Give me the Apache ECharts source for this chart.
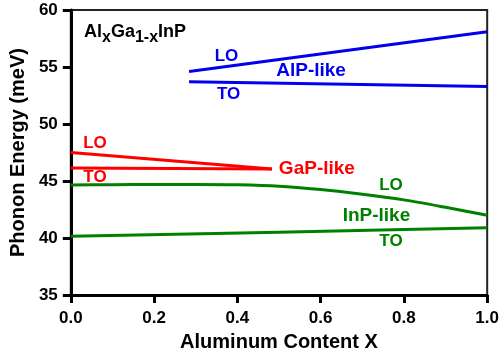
<!DOCTYPE html>
<html><head><meta charset="utf-8">
<script src="https://cdn.jsdelivr.net/npm/echarts@6/dist/echarts.min.js"></script>
<style>html,body{margin:0;padding:0;background:#fff}#c{width:502px;height:357px}</style>
</head><body><div id="c"></div>
<script>
var xTicks = [0, 0.2, 0.4, 0.6, 0.8, 1.0];
var yTicks = [35, 40, 45, 50, 55, 60];

var alpLO_x = [0.284, 1.0];
var alpLO_y = [54.6, 58.1];
var alpTO_x = [0.284, 1.0];
var alpTO_y = [53.7, 53.3];

var gapLO_x = [0, 0.483];
var gapLO_y = [47.5, 46.05];
var gapTO_x = [0, 0.483];
var gapTO_y = [46.15, 46.05];

var inpLO_x = [0, 0.1, 0.2, 0.3, 0.4, 0.5, 0.6, 0.7, 0.8, 0.9, 1.0];
var inpLO_y = [44.65, 44.68, 44.7, 44.7, 44.67, 44.55, 44.25, 43.85, 43.35, 42.7, 42.0];
var inpTO_x = [0, 0.5, 1.0];
var inpTO_y = [40.15, 40.52, 40.9];

var labelText = ['LO', 'TO', 'AlP-like', 'LO', 'TO', 'GaP-like', 'LO', 'InP-like', 'TO'];
var labelX = [0.374, 0.379, 0.577, 0.058, 0.058, 0.591, 0.769, 0.734, 0.769];
var labelY = [55.98, 52.6, 54.68, 48.33, 45.37, 46.07, 44.59, 41.98, 39.72];
var labelColor = ['#0000ee', '#0000ee', '#0000ee', '#ff0000', '#ff0000', '#ff0000', '#008000', '#008000', '#008000'];
var labelSize = [17, 17, 19, 17, 17, 19, 17, 19, 17];

function pts(xs, ys) { return xs.map(function (x, i) { return [x, ys[i]]; }); }

var FONT = '"Liberation Sans", Arial, sans-serif';
var BLUE = '#0000ee', RED = '#ff0000', GREEN = '#008000';

function lineSeries(xs, ys, color, smooth) {
  return {
    type: 'line', data: pts(xs, ys), showSymbol: false, smooth: smooth ? 0.3 : false,
    lineStyle: { color: color, width: 3 }, silent: true, animation: false
  };
}

var chart = echarts.init(document.getElementById('c'));
var series = [
  lineSeries(alpLO_x, alpLO_y, BLUE),
  lineSeries(alpTO_x, alpTO_y, BLUE),
  lineSeries(gapLO_x, gapLO_y, RED),
  lineSeries(gapTO_x, gapTO_y, RED),
  lineSeries(inpLO_x, inpLO_y, GREEN, true),
  lineSeries(inpTO_x, inpTO_y, GREEN, true),
  {
    type: 'scatter', symbolSize: 0, animation: false, silent: true,
    itemStyle: { opacity: 1 },
    data: labelText.map(function (t, i) {
      return {
        value: [labelX[i], labelY[i]],
        itemStyle: { opacity: 1 },
        label: {
          show: true, position: 'inside', formatter: t, opacity: 1,
          color: labelColor[i], fontSize: labelSize[i], fontWeight: 'bold', fontFamily: FONT
        }
      };
    })
  }
];

chart.setOption({
  animation: false,
  backgroundColor: '#fff',
  grid: { left: 69, right: 13, top: 10, bottom: 59, show: true, borderColor: '#222', borderWidth: 2 },
  title: {
    left: 79, top: 14,
    text: '{m|Al}{s|x}{m|Ga}{s|1-x}{m|InP}',
    textStyle: {
      rich: {
        m: { fontSize: 18, fontWeight: 'bold', fontFamily: FONT, color: '#000', verticalAlign: 'bottom', lineHeight: 22 },
        s: { fontSize: 16, fontWeight: 'bold', fontFamily: FONT, color: '#000', verticalAlign: 'bottom', lineHeight: 16, padding: [0, 0, -5, 0] }
      }
    }
  },
  xAxis: {
    type: 'value', min: xTicks[0], max: xTicks[xTicks.length - 1], interval: 0.2,
    name: 'Aluminum Content X', nameLocation: 'middle', nameGap: 32,
    nameTextStyle: { fontSize: 20, fontWeight: 'bold', fontFamily: FONT, color: '#000' },
    axisLine: { show: true, lineStyle: { color: '#000', width: 3 } },
    axisTick: { show: true, inside: false, length: 8, lineStyle: { color: '#000', width: 3 } },
    axisLabel: { fontSize: 17, fontWeight: 'bold', fontFamily: FONT, color: '#000', margin: 15,
      formatter: function (v) { return v.toFixed(1); } },
    splitLine: { show: false }
  },
  yAxis: {
    type: 'value', min: yTicks[0], max: yTicks[yTicks.length - 1], interval: 5,
    name: 'Phonon Energy (meV)', nameLocation: 'middle', nameGap: 40,
    nameTextStyle: { fontSize: 20, fontWeight: 'bold', fontFamily: FONT, color: '#000' },
    axisLine: { show: true, lineStyle: { color: '#000', width: 3 } },
    axisTick: { show: true, inside: false, length: 8, lineStyle: { color: '#000', width: 3 } },
    axisLabel: { fontSize: 17, fontWeight: 'bold', fontFamily: FONT, color: '#000', margin: 13 },
    splitLine: { show: false }
  },
  series: series
});
</script></body></html>
